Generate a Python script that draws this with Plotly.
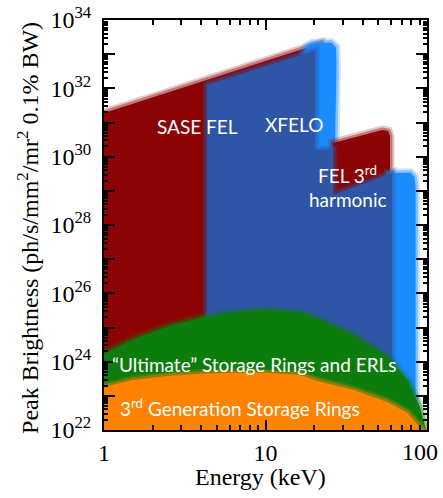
import plotly.graph_objects as go

# ---- region boundaries: photon energy (keV) and peak brightness ----
sase_energy = [1, 1, 22, 22]
sase_brightness = [1e22, 1.9e31, 2.1e33, 1e22]

xfelo_glow_energy = [17, 17, 18, 19.5, 25.5, 27.3, 27.5, 27.0, 25.5, 17]
xfelo_glow_brightness = [1e30, 1.0e33, 1.7e33, 2.1e33, 2.2e33, 1.6e33, 5e32, 3e30, 1.5e30, 1.5e30]

fel3_energy = [26.2, 26.2, 53, 57.5, 59, 59]
fel3_brightness = [5e28, 2.5e30, 6.0e30, 5.6e30, 4e30, 5e28]

harm_glow_energy = [58, 58, 79, 83.5, 85, 85]
harm_glow_brightness = [1e22, 3.3e29, 3.4e29, 2.6e29, 1.3e29, 1e22]

xfelo_energy = [4.34, 4.34, 20.3, 20.3, 26.2, 26.2, 60.7, 60.7]
xfelo_brightness = [1e22, 1.26e32, 1.3e33, 1.6e30, 1.6e30, 7.6e28, 3.3e29, 1e22]

usr_energy = [1, 1, 1.51, 2.46, 3.93, 6.29, 9.9, 16.4, 21.7, 34.8, 56.7, 75.4, 90.4, 98.6]
usr_brightness = [1e22, 1.7e24, 4.4e24, 1.05e25, 1.9e25, 2.7e25, 3.2e25, 2.7e25, 1.66e25,
                  6.0e24, 1.38e24, 2.9e23, 4.7e22, 1e22]

gen3_energy = [1, 1, 1.51, 2.46, 3.93, 6.29, 10.2, 16.4, 21.7, 34.8, 56.7, 75.4, 90.4, 94.5]
gen3_brightness = [1e22, 1.8e23, 2.9e23, 3.8e23, 4.4e23, 4.7e23, 4.7e23, 4.1e23, 2.6e23,
                   1.5e23, 6.6e22, 3.2e22, 1.2e22, 1e22]

x_tickvals = [1, 10]
x_ticktext = ["1", "10"]
x_last_label = "100"
y_tickvals = [1e22, 1e24, 1e26, 1e28, 1e30, 1e32, 1e34]
y_ticktext = ["10<sup>22</sup>", "10<sup>24</sup>", "10<sup>26</sup>", "10<sup>28</sup>",
              "10<sup>30</sup>", "10<sup>32</sup>", "10<sup>34</sup>"]
y_odd_tickvals = [1e23, 1e25, 1e27, 1e29, 1e31, 1e33]

RED = (139, 3, 4)
BLUE = (46, 85, 166)
LIGHT = (26, 140, 255)
GREEN = (12, 125, 12)
ORANGE = (255, 130, 0)

layers = [
    (sase_energy, sase_brightness, RED, "y"),
    (xfelo_glow_energy, xfelo_glow_brightness, LIGHT, "y"),
    (fel3_energy, fel3_brightness, RED, "y"),
    (harm_glow_energy, harm_glow_brightness, LIGHT, "y"),
    (xfelo_energy, xfelo_brightness, BLUE, "y"),
    (usr_energy, usr_brightness, GREEN, "y"),
    (gen3_energy, gen3_brightness, ORANGE, "y2"),
]


def rgba(c, a):
    return "rgba(%d,%d,%d,%.2f)" % (c[0], c[1], c[2], a)


fig = go.Figure()
for ex, by, col, ya in layers:
    # soft (blurred-looking) edge: wide translucent outlines under the fill
    for w, a in [(9, 0.22), (5, 0.4)]:
        fig.add_trace(go.Scatter(x=ex + ex[:1], y=by + by[:1], mode="lines", yaxis=ya,
                                 line=dict(width=w, color=rgba(col, a)),
                                 hoverinfo="skip", showlegend=False))
    fig.add_trace(go.Scatter(x=ex, y=by, mode="lines", fill="toself", yaxis=ya,
                             fillcolor=rgba(col, 1), line=dict(width=0, color=rgba(col, 1)),
                             hoverinfo="skip", showlegend=False))

serif = "Liberation Serif, Times New Roman, serif"
lab_font = dict(family="Lato, sans-serif", size=19, color="white")

annots = [
    ("SASE FEL", 0.289, 0.741),
    ("XFELO", 0.587, 0.744),
    ("FEL 3<sup>rd</sup>", 0.755, 0.622),
    ("harmonic", 0.755, 0.561),
    ("“Ultimate” Storage Rings and ERLs", 0.463, 0.159),
    ("3<sup>rd</sup> Generation Storage Rings", 0.421, 0.056),
]
for t, ax, ay in annots:
    fig.add_annotation(text=t, x=ax, y=ay, xref="paper", yref="paper",
                       showarrow=False, font=lab_font, xanchor="center", yanchor="middle")

fig.add_annotation(text="Peak Brightness (ph/s/mm<sup>2</sup>/mr<sup>2</sup> 0.1% BW)",
                   x=-0.235, y=0.493, xref="paper", yref="paper", textangle=-90,
                   xanchor="center", yanchor="middle",
                   showarrow=False, font=dict(family=serif, size=24, color="black"))
fig.add_annotation(text="Energy (keV)", x=0.483, y=-0.115, xref="paper", yref="paper",
                   xanchor="center", yanchor="middle",
                   showarrow=False, font=dict(family=serif, size=24, color="black"))
# last x tick label, kept inside the page like the reference
fig.add_annotation(text=x_last_label, x=0.978, y=-0.0537, xref="paper", yref="paper",
                   xanchor="center", yanchor="middle",
                   showarrow=False, font=dict(family=serif, size=24, color="black"))

axis_common = dict(showline=True, linecolor="black", linewidth=2, mirror="ticks",
                   ticks="inside", tickcolor="black", showgrid=False, zeroline=False,
                   automargin=False,
                   tickfont=dict(family=serif, size=24, color="black"))

fig.update_layout(
    width=443, height=498, margin=dict(l=104, r=16, t=20, b=68),
    plot_bgcolor="white", paper_bgcolor="white",
    xaxis=dict(type="log", range=[0, 2], tickmode="array", tickvals=x_tickvals,
               ticktext=x_ticktext, ticklen=10, tickwidth=1.5,
               minor=dict(ticks="inside", dtick="D1", ticklen=5, tickcolor="black",
                          showgrid=False),
               **axis_common),
    yaxis=dict(type="log", range=[22, 34], tickmode="array", tickvals=y_tickvals,
               ticktext=y_ticktext, ticklen=11, tickwidth=1.5, ticklabelstandoff=6,
               minor=dict(ticks="inside", dtick="D1", ticklen=4, tickcolor="black",
                          showgrid=False),
               **axis_common),
    yaxis2=dict(type="log", range=[22, 34], overlaying="y", side="left",
                tickmode="array", tickvals=y_odd_tickvals, showticklabels=False,
                ticklen=11, tickwidth=1.5, showline=True, linecolor="black", linewidth=2,
                mirror="ticks", ticks="inside", tickcolor="black", showgrid=False,
                zeroline=False, automargin=False),
)

fig.write_html("out.html", config={"displayModeBar": False},
               post_script="document.body.style.margin='0';")
